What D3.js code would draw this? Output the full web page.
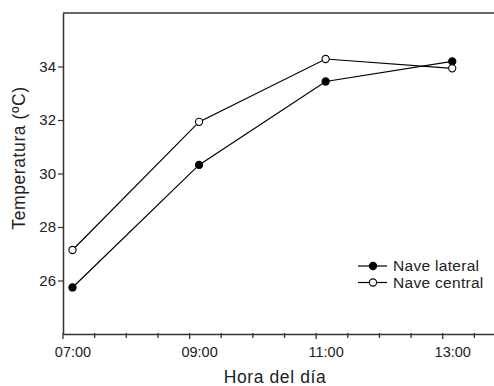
<!DOCTYPE html>
<html>
<head>
<meta charset="utf-8">
<script src="https://cdn.jsdelivr.net/npm/d3@7"></script>
<style>
  body { margin: 0; background: #fff; }
  svg text { font-family: "Liberation Sans", Arial, sans-serif; fill: #222; }
</style>
</head>
<body>
<svg id="chart" width="494" height="386"></svg>
<script>
// Data
const horas = [7, 9, 11, 13];
const horaLabels = ['07:00', '09:00', '11:00', '13:00'];
const naveLateral = [25.74, 30.32, 33.44, 34.19];
const naveCentral = [27.14, 31.93, 34.28, 33.93];
const yTicks = [26, 28, 30, 32, 34];
const series = [
    { name: 'Nave lateral', values: naveLateral, fill: '#000' },
    { name: 'Nave central', values: naveCentral, fill: '#fff' }
];

const svg = d3.select('#chart');
const plotLeft = 63, plotTop = 13, plotBottom = 334, plotRight = 494;

// x in hours; axis starts a bit before 07:00
const x = d3.scaleLinear().domain([6.85, 13.66]).range([plotLeft, plotRight]);
const y = d3.scaleLinear().domain([24, 36]).range([plotBottom, plotTop]);

const axisColor = '#333';

// top frame line
svg.append('line')
    .attr('x1', plotLeft).attr('x2', plotRight)
    .attr('y1', plotTop).attr('y2', plotTop)
    .attr('stroke', axisColor).attr('stroke-width', 1.4);

// y axis
const yAxis = svg.append('g')
    .attr('transform', `translate(${plotLeft},0)`)
    .call(d3.axisLeft(y).tickValues(yTicks).tickSize(5).tickPadding(2).tickSizeOuter(0));
yAxis.select('.domain').attr('stroke', axisColor).attr('stroke-width', 1.5);
yAxis.selectAll('.tick line').attr('stroke', axisColor).attr('stroke-width', 1.2);
yAxis.selectAll('text').attr('font-size', 15).style('fill', '#222');

// x axis: labels at the hours, ticks every half hour from the origin
const xAxis = svg.append('g')
    .attr('transform', `translate(0,${plotBottom})`)
    .call(d3.axisBottom(x).tickValues(horas).tickFormat((d, i) => horaLabels[i])
        .tickSize(0).tickPadding(13).tickSizeOuter(0));
xAxis.select('.domain').attr('stroke', axisColor).attr('stroke-width', 1.5);
xAxis.selectAll('text').attr('font-size', 14.5).style('fill', '#222');

const halfHours = d3.range(0, 14).map(k => 6.85 + k * 0.5).filter(v => v <= 13.66);
xAxis.selectAll('.mtick')
    .data(halfHours)
    .join('line')
    .attr('class', 'mtick')
    .attr('x1', d => x(d)).attr('x2', d => x(d))
    .attr('y1', -1)
    .attr('y2', (d, i) => i % 4 === 0 ? 5 : 4)
    .attr('stroke', axisColor)
    .attr('stroke-width', 1.3);

// axis titles
svg.append('text')
    .attr('x', 275).attr('y', 382.5)
    .attr('text-anchor', 'middle')
    .attr('font-size', 17.5)
    .attr('letter-spacing', 0.6)
    .text('Hora del día');

svg.append('text')
    .attr('transform', 'translate(25,158) rotate(-90)')
    .attr('text-anchor', 'middle')
    .attr('font-size', 17.5)
    .attr('letter-spacing', 0.6)
    .text('Temperatura (ºC)');

// lines + markers
const line = d3.line()
    .x((d, i) => x(horas[i]))
    .y(d => y(d));

series.forEach(s => {
    svg.append('path')
        .datum(s.values)
        .attr('d', line)
        .attr('fill', 'none')
        .attr('stroke', '#000')
        .attr('stroke-width', 1.2);

    svg.selectAll(null)
        .data(s.values)
        .join('circle')
        .attr('cx', (d, i) => x(horas[i]))
        .attr('cy', d => y(d))
        .attr('r', 3.6)
        .attr('fill', s.fill)
        .attr('stroke', '#000')
        .attr('stroke-width', 1.1);
});

// legend
const legend = svg.append('g').attr('transform', 'translate(358,266)');
series.forEach((s, i) => {
    const g = legend.append('g').attr('transform', `translate(0,${i * 16.5})`);
    g.append('line')
        .attr('x1', 0).attr('x2', 29)
        .attr('stroke', '#000').attr('stroke-width', 1.2);
    g.append('circle')
        .attr('cx', 15).attr('r', 3.6)
        .attr('fill', s.fill).attr('stroke', '#000').attr('stroke-width', 1.1);
    g.append('text')
        .attr('x', 35).attr('dy', '0.35em')
        .attr('font-size', 15.5)
        .attr('letter-spacing', 0.3)
        .text(s.name);
});
</script>
</body>
</html>
